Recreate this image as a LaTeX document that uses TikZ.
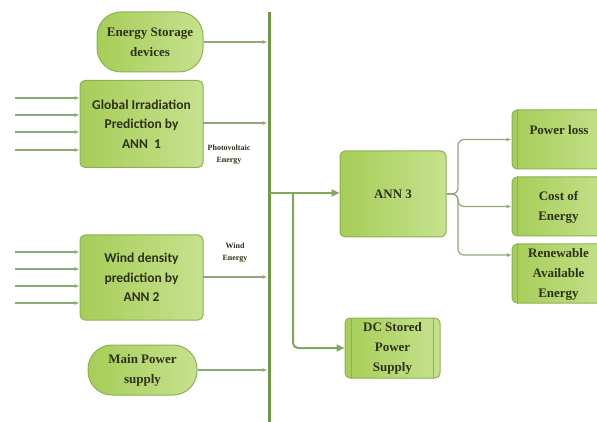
\documentclass[tikz,border=0pt]{standalone}
\usepackage{fontspec}
\setmainfont{Liberation Serif}
\newfontfamily\tnrfont{Liberation Serif}
\newfontfamily\calfont{Carlito}
\usetikzlibrary{arrows.meta}
\definecolor{boxedge}{HTML}{8DB152}
\definecolor{fillA}{HTML}{A6CD58}
\definecolor{fillB}{HTML}{C6E28E}
\definecolor{txt}{HTML}{2E3119}
\definecolor{thinline}{HTML}{8FAA78}
\definecolor{busline}{HTML}{6E9A40}
\definecolor{midline}{HTML}{80A85C}
\tikzset{
  gbox/.style={draw=boxedge, line width=1pt, rounded corners=5pt, left color=fillA, right color=fillB,
    text=txt, align=center, inner sep=0pt},
  pill/.style={gbox, rounded corners=24pt},
  serifb/.style={font=\tnrfont\bfseries\fontsize{13}{20}\selectfont},
  calb/.style={font=\calfont\bfseries\fontsize{13.5}{19.5}\selectfont},
  small/.style={font=\tnrfont\bfseries\fontsize{8}{12}\selectfont, text=txt, align=center},
  arr/.style={draw=thinline, line width=1.2pt, -{Latex[length=5pt,width=4pt]}},
  marr/.style={draw=midline, line width=2pt, -{Triangle[length=8pt,width=7pt]}},
  inner/.style={draw=boxedge, line width=0.8pt}
}
\begin{document}
\begin{tikzpicture}[x=1pt,y=-1pt]
\useasboundingbox (0,0) rectangle (597,422);
\clip (0,0) rectangle (597,422);
% bus
\coordinate (bt) at (269,12);
\coordinate (bb) at (269,422);
\draw[busline, line width=3pt] (bt) -- (bb);
% left nodes
\node[pill, serifb, minimum width=106pt, minimum height=60pt] (es) at (150,42) {Energy Storage\\devices};
\node[gbox, calb, minimum width=123pt, minimum height=87pt] (g1) at (141.5,124) {Global Irradiation\\Prediction by\\ANN\ \ 1};
\node[gbox, calb, minimum width=123pt, minimum height=85pt] (w2) at (141.5,277.5) {Wind density\\prediction by\\ANN 2};
\node[pill, serifb, minimum width=109pt, minimum height=50pt] (mp) at (142.5,370) {Main Power\\supply};
% labels
\node[small] (pv) at (229,155) {Photovoltaic\\Energy};
\node[small] (we) at (235,253) {Wind\\Energy};
% into bus
\draw[arr] (es.east) -- ([xshift=-1.5pt]es.east -| bt);
\coordinate (g1o) at (203,123);
\draw[arr] (g1o) -- ([xshift=-1.5pt]g1o -| bt);
\coordinate (w2o) at (203,277);
\draw[arr] (w2o) -- ([xshift=-1.5pt]w2o -| bt);
\draw[arr] (mp.east) -- ([xshift=-1.5pt]mp.east -| bt);
% inputs
\foreach \y [count=\i] in {98,115,132,150} {
  \coordinate (ga\i) at (15,\y);
  \draw[arr] (ga\i) -- (ga\i -| g1.west);
}
\foreach \y [count=\i] in {252,269,286,303} {
  \coordinate (wa\i) at (15,\y);
  \draw[arr] (wa\i) -- (wa\i -| w2.west);
}
% right side
\node[gbox, serifb, minimum width=106pt, minimum height=86pt] (a3) at (393,194) {ANN 3};
\node[gbox, serifb, minimum width=95pt, minimum height=60pt] (dc) at (392.5,348) {DC Stored\\Power\\Supply};
\draw[inner] ([xshift=7pt]dc.north west) -- ([xshift=7pt]dc.south west);
\draw[inner] ([xshift=-7pt]dc.north east) -- ([xshift=-7pt]dc.south east);
\node[gbox, minimum width=100pt, minimum height=59pt] (pl) at (562,139.5) {};
\node[serifb, text=txt, anchor=west] (plt) at (526,130) {Power loss};
\node[gbox, minimum width=100pt, minimum height=59pt] (ce) at (562,206.5) {};
\node[serifb, text=txt, align=center] (cet) at (558.5,207) {Cost of\\Energy};
\node[gbox, minimum width=100pt, minimum height=59pt] (re) at (562,273.5) {};
\node[serifb, text=txt, align=center] (ret) at (558.5,274) {Renewable\\Available\\Energy};
\foreach \n in {pl,ce,re} {
  \draw[inner] ([xshift=6pt]\n.north west) -- ([xshift=6pt]\n.south west);
}
% bus to ANN3 and DC
\coordinate (b3) at (269,193);
\draw[marr] (b3) -- (b3 -| a3.west);
\coordinate (br) at (293,193);
\draw[marr, rounded corners=5pt] (br) |- (dc.west);
% bracket
\coordinate (bk) at (458,194);
\coordinate (rein) at (512,255);
\draw[arr, rounded corners=6pt] (a3.east) -- (bk) |- (pl.west);
\draw[arr, rounded corners=6pt] (a3.east) -- (bk) |- (ce.west);
\draw[arr, rounded corners=6pt] (a3.east) -- (bk) |- (rein);
\end{tikzpicture}
\end{document}
